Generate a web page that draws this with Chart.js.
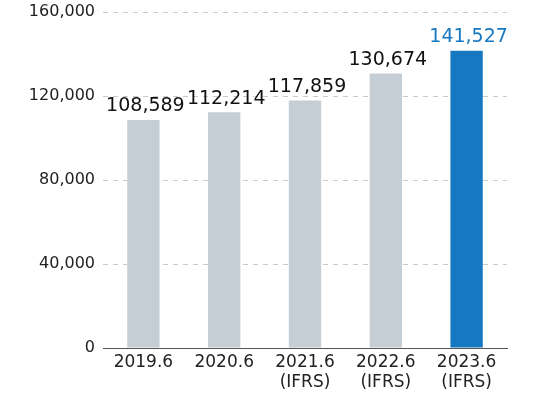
<!DOCTYPE html>
<html><head><meta charset="utf-8">
<script src="https://cdn.jsdelivr.net/npm/chart.js@4"></script>
<style>html,body{margin:0;padding:0;background:#fff}#wrap{width:543px;height:394px}</style>
</head><body><div id="wrap"><canvas id="c" width="543" height="394"></canvas></div>
<script>
const categories = [["2019.6"], ["2020.6"], ["2021.6", "(IFRS)"], ["2022.6", "(IFRS)"], ["2023.6", "(IFRS)"]];
const values = [108589, 112214, 117859, 130674, 141527];
const yTicks = [0, 40000, 80000, 120000, 160000];
const barColors = ["#c5cdd5", "#c5cdd5", "#c5cdd5", "#c5cdd5", "#1778c2"];
const labelColors = ["#111", "#111", "#111", "#111", "#1778c2"];
const FONT = "'DejaVu Sans', sans-serif";

const valueLabels = {
  id: 'valueLabels',
  afterDatasetsDraw(chart) {
    const ctx = chart.ctx;
    const meta = chart.getDatasetMeta(0);
    ctx.save();
    ctx.font = "19px " + FONT;
    ctx.textAlign = 'center';
    ctx.textBaseline = 'bottom';
    meta.data.forEach((bar, i) => {
      ctx.fillStyle = labelColors[i];
      ctx.fillText(values[i].toLocaleString('en-US'), bar.x + 2, bar.y - 4);
    });
    ctx.restore();
  }
};

new Chart(document.getElementById('c'), {
  type: 'bar',
  data: { labels: categories, datasets: [{ data: values, backgroundColor: barColors, barPercentage: 0.4, categoryPercentage: 1 }] },
  options: {
    responsive: false, animation: false,
    layout: { padding: { top: 12, right: 36, bottom: 0, left: 0 } },
    plugins: { legend: { display: false }, tooltip: { enabled: false } },
    scales: {
      x: {
        afterFit(axis) { axis.height = 46; axis.paddingLeft = 0; axis.paddingRight = 0; },
        grid: { display: false, drawTicks: false },
        border: { display: true, color: '#555', width: 1 },
        ticks: { color: '#222', font: { family: FONT, size: 17, lineHeight: 1.2 }, padding: 4, maxRotation: 0, autoSkip: false }
      },
      y: {
        min: 0, max: 160000,
        afterBuildTicks(axis) { axis.ticks = yTicks.map(v => ({ value: v })); },
        afterFit(axis) { axis.width = 103; axis.paddingTop = 0; axis.paddingBottom = 0; },
        grid: { color: '#c8c8c8', drawTicks: false, tickLength: 0 },
        border: { display: false, dash: [5, 5] },
        ticks: { color: '#222', font: { family: FONT, size: 16 }, padding: 8, callback: v => v.toLocaleString('en-US') }
      }
    }
  },
  plugins: [valueLabels]
});
</script></body></html>
